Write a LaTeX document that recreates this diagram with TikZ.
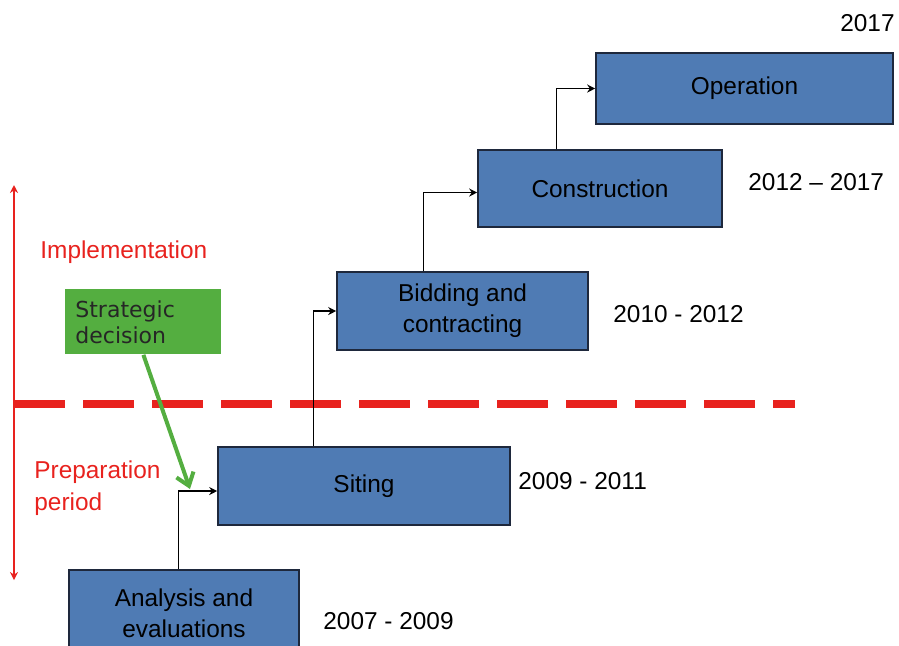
\documentclass[tikz,border=0pt]{standalone}
\usepackage{fontspec}
\setmainfont{Liberation Sans}
\newfontfamily\dejavu{DejaVu Sans}
\usetikzlibrary{arrows.meta}
\definecolor{boxblue}{RGB}{79,123,180}
\definecolor{boxedge}{RGB}{30,40,60}
\definecolor{decgreen}{RGB}{84,174,64}
\definecolor{phasered}{RGB}{232,34,30}

\begin{document}
\begin{tikzpicture}[x=0.5pt,y=-0.5pt,>=Stealth,
    stage/.style={draw=boxedge,line width=0.8pt,fill=boxblue,align=center,inner sep=0pt,
      font=\fontsize{12.2}{15.5}\selectfont},
    period/.style={anchor=west,inner sep=0pt,font=\fontsize{12.2}{15}\selectfont},
    phase/.style={anchor=west,inner sep=0pt,align=left,text=phasered,font=\fontsize{12.2}{16}\selectfont},
    conn/.style={draw=black,line width=0.7pt,-{Stealth[length=4pt,width=4pt]}}]
        \useasboundingbox (0,0) rectangle (899,645);
        % phases
        \coordinate (up) at (14,185);
        \coordinate (down) at (14,580);
        \coordinate (sepl) at (14,404);
        \coordinate (sepr) at (795,404);
        \draw[phasered,line width=0.8pt,{Stealth[length=4pt,width=4pt]}-{Stealth[length=4pt,width=4pt]}] (up) -- (down);
        \draw[phasered,line width=4pt,dash pattern=on 25.5pt off 9pt] (sepl) -- (sepr);
        \node[phase] (impl) at (40,252) {Implementation};
        \node[phase] (prep) at (34,488) {Preparation\\period};
        % stages
        \node[stage,minimum width=115pt,minimum height=43pt] (an) at (184,613) {Analysis and\\evaluations};
        \node[stage,minimum width=146pt,minimum height=39pt] (sit) at (364,486) {\raisebox{-1.5pt}{Siting}};
        \node[stage,minimum width=125.5pt,minimum height=39pt] (bid) at (462.5,311) {Bidding and\\contracting};
        \node[stage,minimum width=122pt,minimum height=38.5pt] (con) at (600,188.5) {\raisebox{-1pt}{Construction}};
        \node[stage,minimum width=148.5pt,minimum height=35.5pt] (op) at (744.5,88.5) {\raisebox{-1.5pt}{Operation}};
        % years
        \node[period] (y1) at (323,621) {2007 - 2009};
        \node[period] (y2) at (518,481) {2009 - 2011};
        \node[period] (y3) at (613,314) {2010 - 2012};
        \node[period] (y4) at (748,182) {2012 -- 2017};
        \node[period,anchor=east] (y5) at (895,23) {2017};
        % links
        \draw[conn] (an.north west) ++(110,0) |- ([yshift=-2.5pt]sit.west);
        \draw[conn] (sit.north west) ++(96,0) |- (bid.west);
        \draw[conn] (bid.north west) ++(87,0) |- ([yshift=-2pt]con.west);
        \draw[conn] (con.north west) ++(79,0) |- (op.west);
        % decision
        \node[draw=none,fill=decgreen,anchor=north west,minimum width=78pt,minimum height=32.5pt,
          text width=68pt,inner xsep=5pt,inner ysep=0pt,align=left,text=black!85,
          font=\dejavu\fontsize{11}{13}\selectfont] (dec) at (65,289) {Strategic\\decision};
        \coordinate (hit) at (190,489);
        \draw[decgreen,line width=2pt,-{Straight Barb[length=6pt,width=9pt]}] (dec.south) -- (hit);
\end{tikzpicture}
\end{document}
